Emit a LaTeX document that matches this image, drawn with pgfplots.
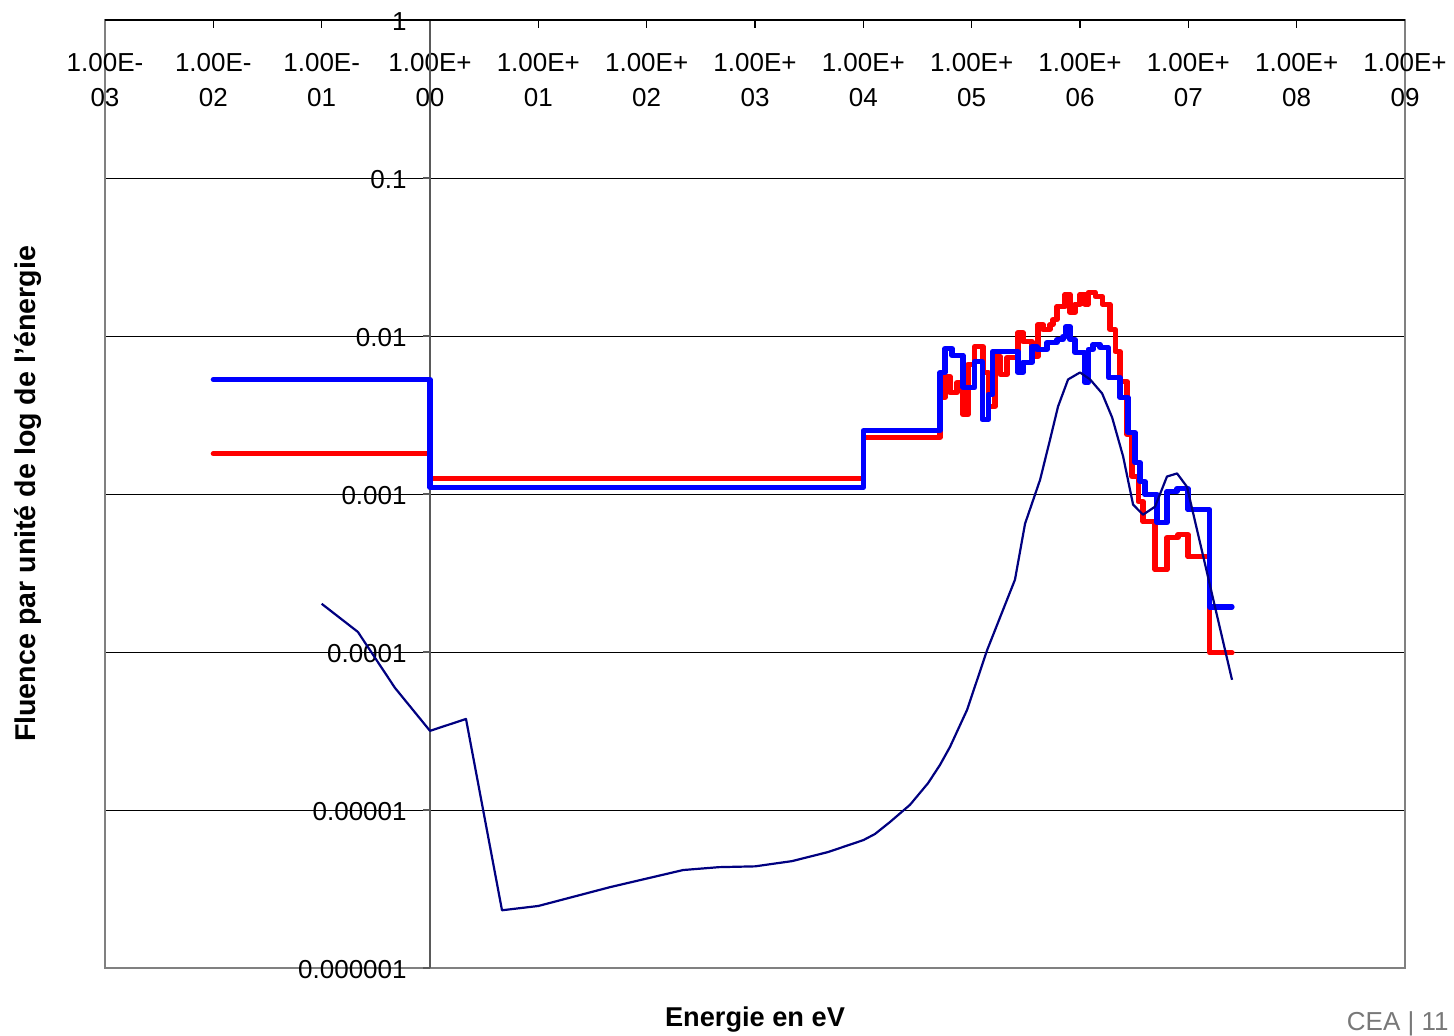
\documentclass[border=0pt]{standalone}
\usepackage{fontspec}
\setmainfont{Liberation Sans}
\usepackage{pgfplots}
\pgfplotsset{compat=1.18}
\definecolor{exred}{RGB}{255,0,0}
\definecolor{exblue}{RGB}{0,0,255}
\definecolor{exnavy}{RGB}{0,0,128}
\definecolor{framegray}{RGB}{128,128,128}
\definecolor{axgray}{RGB}{90,90,90}
\definecolor{ceagray}{RGB}{120,120,120}
\newcommand{\lf}{\fontsize{13}{17.5}\selectfont}
\tikzset{ylab/.style={anchor=east, xshift=-11.5pt, yshift=-0.8pt, inner sep=0pt, font=\lf}}

\begin{document}
\begin{tikzpicture}
\useasboundingbox (-52.5pt,-33.5pt) rectangle (674.5pt,484pt);
\begin{axis}[
  at={(0pt,0pt)}, anchor=south west,
  scale only axis, width=650pt, height=474pt,
  xmode=log, ymode=log,
  xmin=1e-3, xmax=1e9, ymin=1e-6, ymax=1,
  clip=false,
  axis line style={draw=framegray, line width=0.75pt},
  xtick={1e-3,1e-2,1e-1,1,1e1,1e2,1e3,1e4,1e5,1e6,1e7,1e8,1e9},
  xticklabels={{1.00E-\\03},{1.00E-\\02},{1.00E-\\01},{1.00E+\\00},{1.00E+\\01},{1.00E+\\02},{1.00E+\\03},{1.00E+\\04},{1.00E+\\05},{1.00E+\\06},{1.00E+\\07},{1.00E+\\08},{1.00E+\\09}},
  xtick pos=right, xticklabel pos=right,
  tick align=inside,
  major tick length=4pt,
  minor tick length=0pt,
  minor tick style={draw=none},
  xtick style={draw=black, line width=0.6pt},
  xticklabel style={anchor=north, yshift=-16.5pt, align=center, inner sep=0pt, font=\lf},
  ytick={1e-5,1e-4,1e-3,1e-2,1e-1},
  yticklabels={},
  ytick style={draw=none},
  ymajorgrids,
  major grid style={black, line width=0.5pt},
]
% y axis line at E = 1 eV
\draw[axgray, line width=0.75pt] (axis cs:1,1e-6) -- (axis cs:1,1);
\draw[axgray, line width=0.6pt] (axis cs:1,1) -- ([xshift=-3.5pt]axis cs:1,1);
\draw[axgray, line width=0.6pt] (axis cs:1,1e-1) -- ([xshift=-3.5pt]axis cs:1,1e-1);
\draw[axgray, line width=0.6pt] (axis cs:1,1e-2) -- ([xshift=-3.5pt]axis cs:1,1e-2);
\draw[axgray, line width=0.6pt] (axis cs:1,1e-3) -- ([xshift=-3.5pt]axis cs:1,1e-3);
\draw[axgray, line width=0.6pt] (axis cs:1,1e-4) -- ([xshift=-3.5pt]axis cs:1,1e-4);
\draw[axgray, line width=0.6pt] (axis cs:1,1e-5) -- ([xshift=-3.5pt]axis cs:1,1e-5);
\draw[axgray, line width=0.6pt] (axis cs:1,1e-6) -- ([xshift=-3.5pt]axis cs:1,1e-6);
\node[ylab] at (axis cs:1,1) {1};
\node[ylab] at (axis cs:1,1e-1) {0.1};
\node[ylab] at (axis cs:1,1e-2) {0.01};
\node[ylab] at (axis cs:1,1e-3) {0.001};
\node[ylab] at (axis cs:1,1e-4) {0.0001};
\node[ylab] at (axis cs:1,1e-5) {0.00001};
\node[ylab] at (axis cs:1,1e-6) {0.000001};

% red series
\addplot[const plot, exred, line width=2.6pt, line join=round, line cap=round] coordinates {
(0.01,1.80e-3) (1,1.25e-3) (1e4,2.28e-3) (51000,4.08e-3) (56800,5.55e-3)
(63100,4.39e-3) (73300,5.08e-3) (83200,3.18e-3) (92500,6.61e-3) (107000,8.59e-3)
(127000,5.88e-3) (142000,3.58e-3) (164000,7.43e-3) (183000,5.71e-3) (212000,7.32e-3)
(268000,1.05e-2) (298000,9.24e-3) (361000,7.43e-3) (410000,1.18e-2) (456000,1.10e-2)
(529000,1.18e-2) (564000,1.27e-2) (614000,1.54e-2) (728000,1.84e-2) (809000,1.41e-2)
(899000,1.59e-2) (1.0e6,1.84e-2) (1.11e6,1.59e-2) (1.19e6,1.89e-2) (1.38e6,1.78e-2)
(1.60e6,1.59e-2) (1.89e6,1.10e-2) (2.11e6,7.98e-3) (2.34e6,5.15e-3) (2.72e6,2.38e-3)
(3.02e6,1.29e-3) (3.44e6,8.95e-4) (3.82e6,6.68e-4) (4.93e6,3.32e-4) (6.35e6,5.30e-4)
(8.04e6,5.53e-4) (9.93e6,4.01e-4) (1.58e7,9.89e-5) (2.53e7,9.89e-5)
};

% blue series
\addplot[const plot, exblue, line width=2.6pt, line join=round, line cap=round] coordinates {
(0.01,5.31e-3) (1,1.10e-3) (1e4,2.52e-3) (51000,5.88e-3) (56800,8.34e-3)
(65900,7.54e-3) (83200,4.72e-3) (107000,6.90e-3) (125000,2.96e-3) (142000,4.27e-3)
(157000,7.98e-3) (268000,5.88e-3) (298000,6.81e-3) (361000,8.59e-3) (401000,8.22e-3)
(496000,9.10e-3) (614000,9.51e-3) (697000,9.94e-3) (743000,1.15e-2) (809000,9.51e-3)
(899000,7.87e-3) (1.11e6,5.08e-3) (1.19e6,8.22e-3) (1.32e6,8.85e-3) (1.53e6,8.47e-3)
(1.82e6,5.47e-3) (2.34e6,4.08e-3) (2.77e6,2.45e-3) (3.22e6,1.58e-3) (3.58e6,1.20e-3)
(3.98e6,9.91e-4) (5.14e6,6.59e-4) (6.35e6,1.04e-3) (7.87e6,1.08e-3) (9.93e6,7.96e-4)
(1.58e7,1.93e-4) (2.53e7,1.93e-4)
};

% navy curve
\addplot[exnavy, line width=1.1pt, line join=round] coordinates {
(0.1,2.02e-4) (0.216,1.34e-4) (0.475,5.93e-5) (1,3.17e-5) (2.15,3.77e-5)
(4.62,2.32e-6) (10,2.47e-6) (45.9,3.25e-6) (217,4.17e-6) (466,4.35e-6)
(1000,4.4e-6) (2200,4.75e-6) (4720,5.42e-6) (1e4,6.45e-6) (12800,7.05e-6)
(17600,8.39e-6) (27000,1.08e-5) (39600,1.48e-5) (51000,1.93e-5) (63100,2.51e-5)
(90600,4.30e-5) (139000,1.03e-4) (251000,2.87e-4) (311000,6.49e-4) (428000,1.23e-3)
(529000,2.21e-3) (627000,3.58e-3) (776000,5.31e-3) (1e6,5.88e-3) (1.24e6,5.31e-3)
(1.60e6,4.33e-3) (1.98e6,3.05e-3) (2.50e6,1.73e-3) (3.09e6,8.57e-4) (3.82e6,7.40e-4)
(4.93e6,8.32e-4) (6.35e6,1.29e-3) (7.87e6,1.35e-3) (9.72e6,1.11e-3) (2.53e7,6.67e-5)
};

% top axis line
\draw[black, line width=0.75pt] (rel axis cs:0,1) -- (rel axis cs:1,1);
\end{axis}
\node[rotate=90, font=\fontsize{14.3}{17}\selectfont\bfseries] at (-38.5pt,237pt) {Fluence par unité de log de l'énergie};
\node[anchor=base, font=\fontsize{13.6}{17}\selectfont\bfseries] at (325pt,-29pt) {Energie en eV};
\node[anchor=base east, font=\lf, text=ceagray, inner sep=0pt] at (672pt,-31pt) {CEA | 11};
\end{tikzpicture}
\end{document}
